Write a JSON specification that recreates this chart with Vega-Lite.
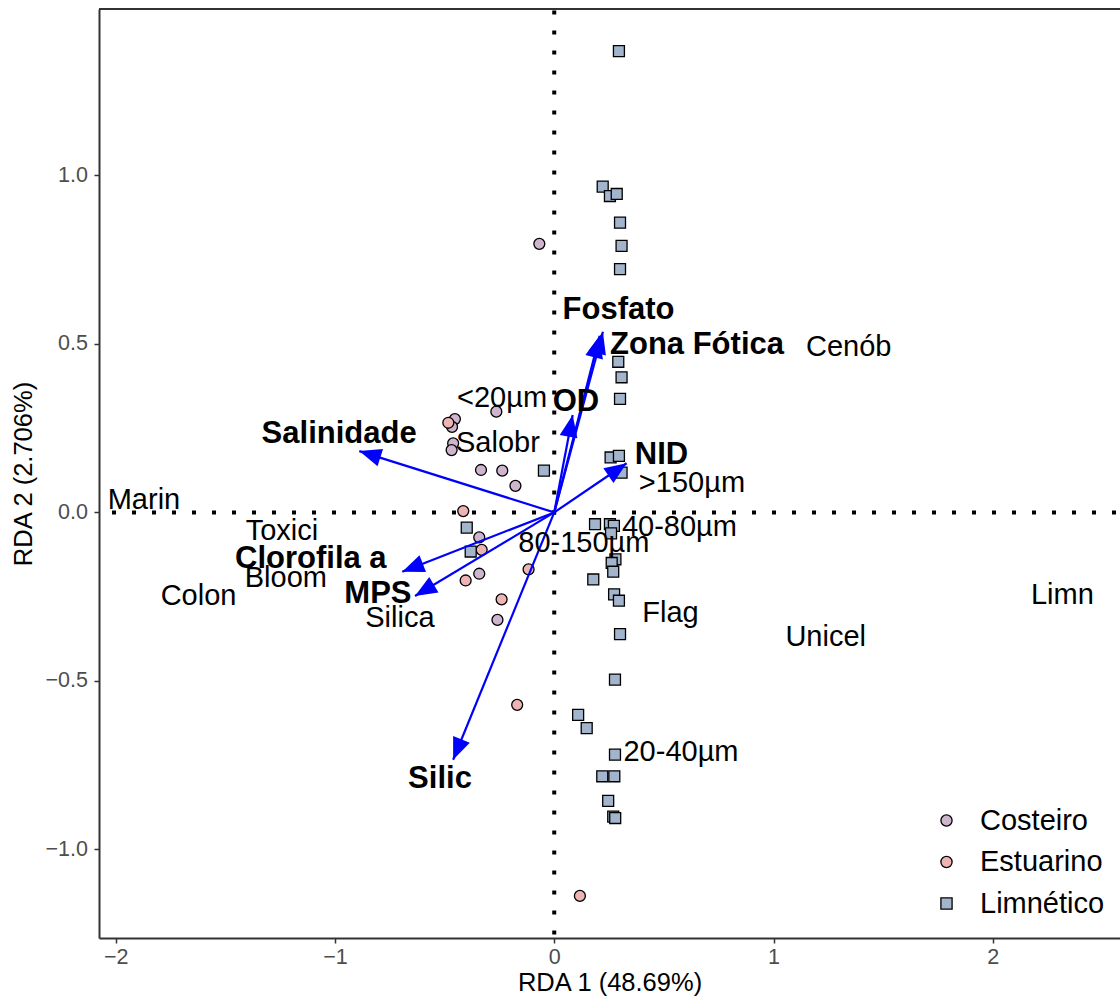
{
  "$schema": "https://vega.github.io/schema/vega-lite/v6.json",
  "autosize": "none",
  "width": 1021,
  "height": 929,
  "padding": {"left": 99, "top": 9, "right": 0, "bottom": 61},
  "background": "white",
  "config": {
    "font": "Liberation Sans",
    "view": {"stroke": "#333333", "strokeWidth": 2, "strokeDash": [1021, 4000]},
    "axis": {
      "grid": false,
      "domainColor": "#333333",
      "domainWidth": 2,
      "tickColor": "#333333",
      "tickWidth": 1.5,
      "tickSize": 5,
      "labelColor": "#4D4D4D",
      "labelFontSize": 21.5,
      "labelFont": "Liberation Sans",
      "labelPadding": 3,
      "titleFont": "Liberation Sans",
      "titleFontSize": 25.5,
      "titleFontWeight": "normal",
      "titleColor": "black"
    },
    "axisY": {"labelPadding": 6.5},
    "legend": {
      "symbolStrokeWidth": 1.3
    }
  },
  "datasets": {
    "sites": [
      {"x": -0.068, "y": 0.797, "Ambiente": "Costeiro"},
      {"x": -0.453, "y": 0.277, "Ambiente": "Costeiro"},
      {"x": -0.466, "y": 0.254, "Ambiente": "Costeiro"},
      {"x": -0.461, "y": 0.205, "Ambiente": "Costeiro"},
      {"x": -0.468, "y": 0.185, "Ambiente": "Costeiro"},
      {"x": -0.264, "y": 0.299, "Ambiente": "Costeiro"},
      {"x": -0.334, "y": 0.126, "Ambiente": "Costeiro"},
      {"x": -0.237, "y": 0.124, "Ambiente": "Costeiro"},
      {"x": -0.177, "y": 0.079, "Ambiente": "Costeiro"},
      {"x": -0.342, "y": -0.074, "Ambiente": "Costeiro"},
      {"x": -0.342, "y": -0.182, "Ambiente": "Costeiro"},
      {"x": -0.259, "y": -0.319, "Ambiente": "Costeiro"},
      {"x": -0.483, "y": 0.266, "Ambiente": "Estuarino"},
      {"x": -0.415, "y": 0.004, "Ambiente": "Estuarino"},
      {"x": -0.331, "y": -0.111, "Ambiente": "Estuarino"},
      {"x": -0.404, "y": -0.202, "Ambiente": "Estuarino"},
      {"x": -0.117, "y": -0.169, "Ambiente": "Estuarino"},
      {"x": -0.240, "y": -0.258, "Ambiente": "Estuarino"},
      {"x": -0.169, "y": -0.571, "Ambiente": "Estuarino"},
      {"x": 0.117, "y": -1.138, "Ambiente": "Estuarino"},
      {"x": 0.295, "y": 1.369, "Ambiente": "Limnético"},
      {"x": 0.221, "y": 0.967, "Ambiente": "Limnético"},
      {"x": 0.254, "y": 0.939, "Ambiente": "Limnético"},
      {"x": 0.285, "y": 0.945, "Ambiente": "Limnético"},
      {"x": 0.300, "y": 0.860, "Ambiente": "Limnético"},
      {"x": 0.307, "y": 0.791, "Ambiente": "Limnético"},
      {"x": 0.300, "y": 0.722, "Ambiente": "Limnético"},
      {"x": 0.292, "y": 0.447, "Ambiente": "Limnético"},
      {"x": 0.307, "y": 0.401, "Ambiente": "Limnético"},
      {"x": 0.300, "y": 0.337, "Ambiente": "Limnético"},
      {"x": 0.257, "y": 0.163, "Ambiente": "Limnético"},
      {"x": 0.295, "y": 0.168, "Ambiente": "Limnético"},
      {"x": 0.307, "y": 0.118, "Ambiente": "Limnético"},
      {"x": -0.047, "y": 0.124, "Ambiente": "Limnético"},
      {"x": 0.186, "y": -0.035, "Ambiente": "Limnético"},
      {"x": 0.254, "y": -0.035, "Ambiente": "Limnético"},
      {"x": 0.272, "y": -0.040, "Ambiente": "Limnético"},
      {"x": 0.259, "y": -0.062, "Ambiente": "Limnético"},
      {"x": 0.279, "y": -0.139, "Ambiente": "Limnético"},
      {"x": 0.262, "y": -0.150, "Ambiente": "Limnético"},
      {"x": 0.269, "y": -0.176, "Ambiente": "Limnético"},
      {"x": 0.178, "y": -0.199, "Ambiente": "Limnético"},
      {"x": 0.273, "y": -0.243, "Ambiente": "Limnético"},
      {"x": 0.295, "y": -0.262, "Ambiente": "Limnético"},
      {"x": 0.300, "y": -0.361, "Ambiente": "Limnético"},
      {"x": 0.277, "y": -0.496, "Ambiente": "Limnético"},
      {"x": 0.109, "y": -0.601, "Ambiente": "Limnético"},
      {"x": 0.148, "y": -0.640, "Ambiente": "Limnético"},
      {"x": 0.277, "y": -0.719, "Ambiente": "Limnético"},
      {"x": 0.219, "y": -0.783, "Ambiente": "Limnético"},
      {"x": 0.274, "y": -0.783, "Ambiente": "Limnético"},
      {"x": 0.246, "y": -0.856, "Ambiente": "Limnético"},
      {"x": 0.269, "y": -0.903, "Ambiente": "Limnético"},
      {"x": 0.278, "y": -0.907, "Ambiente": "Limnético"},
      {"x": -0.399, "y": -0.045, "Ambiente": "Limnético"},
      {"x": -0.381, "y": -0.116, "Ambiente": "Limnético"}
    ],
    "species": [
      {"label": "Marin", "x": -1.871, "y": 0.037},
      {"label": "Toxici", "x": -1.242, "y": -0.055},
      {"label": "Bloom", "x": -1.224, "y": -0.194},
      {"label": "Colon", "x": -1.622, "y": -0.248},
      {"label": "Silica", "x": -0.704, "y": -0.313},
      {"label": "Salobr", "x": -0.257, "y": 0.206},
      {"label": "<20µm", "x": -0.238, "y": 0.340},
      {"label": "Cenób", "x": 1.343, "y": 0.491},
      {"label": ">150µm", "x": 0.628, "y": 0.088},
      {"label": "40-80µm", "x": 0.571, "y": -0.043},
      {"label": "80-150µm", "x": 0.135, "y": -0.091},
      {"label": "Flag", "x": 0.530, "y": -0.298},
      {"label": "Unicel", "x": 1.238, "y": -0.369},
      {"label": "Limn", "x": 2.317, "y": -0.245},
      {"label": "20-40µm", "x": 0.578, "y": -0.711}
    ],
    "envlabels": [
      {"label": "Fosfato", "x": 0.293, "y": 0.601},
      {"label": "Zona Fótica", "x": 0.651, "y": 0.497},
      {"label": "OD", "x": 0.099, "y": 0.328},
      {"label": "NID", "x": 0.489, "y": 0.171},
      {"label": "Salinidade", "x": -0.981, "y": 0.233},
      {"label": "Clorofila a", "x": -1.110, "y": -0.138},
      {"label": "MPS", "x": -0.804, "y": -0.242},
      {"label": "Silic", "x": -0.521, "y": -0.791}
    ],
    "arrows": [
      {"var": "Fosfato", "x0": 0, "y0": 0, "x": 0.222, "y": 0.536},
      {"var": "Zona Fótica", "x0": 0, "y0": 0, "x": 0.207, "y": 0.524},
      {"var": "OD", "x0": 0, "y0": 0, "x": 0.084, "y": 0.289},
      {"var": "NID", "x0": 0, "y0": 0, "x": 0.330, "y": 0.146},
      {"var": "Salinidade", "x0": 0, "y0": 0, "x": -0.889, "y": 0.182},
      {"var": "Clorofila a", "x0": 0, "y0": 0, "x": -0.693, "y": -0.176},
      {"var": "MPS", "x0": 0, "y0": 0, "x": -0.635, "y": -0.248},
      {"var": "Silic", "x0": 0, "y0": 0, "x": -0.461, "y": -0.734}
    ],
    "zero": [{"x": 0, "y": 0}]
  },
  "layer": [
    {
      "data": {"name": "sites"},
      "mark": {"type": "point", "filled": true, "opacity": 1, "strokeWidth": 1.3, "size": 120},
      "encoding": {
        "x": {
          "field": "x", "type": "quantitative",
          "scale": {"domain": [-2.076, 2.58], "nice": false, "zero": false},
          "axis": {"values": [-2, -1, 0, 1, 2], "format": "d", "title": "RDA 1 (48.69%)", "titlePadding": 3}
        },
        "y": {
          "field": "y", "type": "quantitative",
          "scale": {"domain": [-1.263, 1.494], "nice": false, "zero": false},
          "axis": {"values": [-1, -0.5, 0, 0.5, 1], "format": ".1f", "title": "RDA 2 (2.706%)", "titlePadding": 9}
        },
        "fill": {
          "field": "Ambiente", "type": "nominal",
          "scale": {"domain": ["Costeiro", "Estuarino", "Limnético"], "range": ["#CDB5CD", "#EEB4B4", "#A2B5CD"]},
          "legend": {
            "title": null, "orient": "none", "legendX": 833, "legendY": 797,
            "labelFontSize": 29, "labelFont": "Liberation Sans", "labelColor": "black",
            "symbolSize": 125, "symbolStrokeWidth": 1.3,
            "rowPadding": 11.5, "labelOffset": 19, "padding": 0
          }
        },
        "stroke": {
          "field": "Ambiente", "type": "nominal",
          "scale": {"domain": ["Costeiro", "Estuarino", "Limnético"], "range": ["black", "black", "black"]},
          "legend": {
            "title": null, "orient": "none", "legendX": 833, "legendY": 797,
            "labelFontSize": 29, "labelFont": "Liberation Sans", "labelColor": "black",
            "symbolSize": 125, "symbolStrokeWidth": 1.3,
            "rowPadding": 11.5, "labelOffset": 19, "padding": 0
          }
        },
        "shape": {
          "field": "Ambiente", "type": "nominal",
          "scale": {"domain": ["Costeiro", "Estuarino", "Limnético"], "range": ["circle", "circle", "square"]},
          "legend": {
            "title": null, "orient": "none", "legendX": 833, "legendY": 797,
            "labelFontSize": 29, "labelFont": "Liberation Sans", "labelColor": "black",
            "symbolSize": 125, "symbolStrokeWidth": 1.3,
            "rowPadding": 11.5, "labelOffset": 19, "padding": 0
          }
        }
      }
    },
    {
      "data": {"name": "zero"},
      "mark": {"type": "rule", "color": "black", "strokeWidth": 4, "strokeDash": [4, 16], "strokeDashOffset": 16, "strokeCap": "butt"},
      "encoding": {"y": {"field": "y", "type": "quantitative"}}
    },
    {
      "data": {"name": "zero"},
      "mark": {"type": "rule", "color": "black", "strokeWidth": 4, "strokeDash": [4, 16], "strokeDashOffset": 18.5, "strokeCap": "butt"},
      "encoding": {"x": {"field": "x", "type": "quantitative"}}
    },
    {
      "data": {"name": "arrows"},
      "mark": {"type": "rule", "color": "#0000FF", "strokeWidth": 2.2},
      "encoding": {
        "x": {"field": "x0", "type": "quantitative"},
        "y": {"field": "y0", "type": "quantitative"},
        "x2": {"field": "x"},
        "y2": {"field": "y"}
      }
    },
    {
      "data": {"name": "arrows"},
      "transform": [{"calculate": "atan2(datum.x*219.29, datum.y*336.96)*180/PI", "as": "ang"}],
      "mark": {"type": "point", "shape": "M0,0L-0.45,1.1L0.45,1.1Z", "filled": true, "fill": "#0000FF", "strokeWidth": 0, "opacity": 1, "size": 1600},
      "encoding": {
        "x": {"field": "x", "type": "quantitative"},
        "y": {"field": "y", "type": "quantitative"},
        "angle": {"field": "ang", "type": "quantitative", "scale": null}
      }
    },
    {
      "data": {"name": "species"},
      "mark": {"type": "text", "fontSize": 29, "font": "Liberation Sans", "color": "black", "align": "center", "baseline": "middle"},
      "encoding": {
        "x": {"field": "x", "type": "quantitative"},
        "y": {"field": "y", "type": "quantitative"},
        "text": {"field": "label"}
      }
    },
    {
      "data": {"name": "envlabels"},
      "mark": {"type": "text", "fontSize": 31, "font": "Liberation Sans", "fontWeight": "bold", "color": "black", "align": "center", "baseline": "middle"},
      "encoding": {
        "x": {"field": "x", "type": "quantitative"},
        "y": {"field": "y", "type": "quantitative"},
        "text": {"field": "label"}
      }
    }
  ]
}
